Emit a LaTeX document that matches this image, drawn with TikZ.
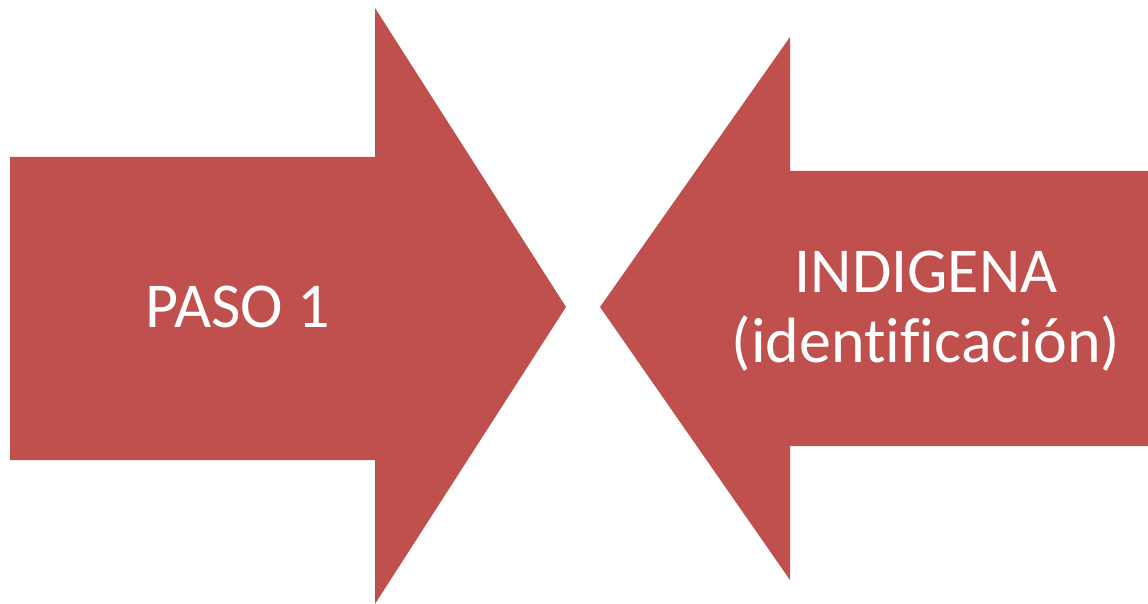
\documentclass[tikz,border=0pt]{standalone}
\usepackage{fontspec}
\setmainfont{Carlito}[Ligatures=NoCommon]
\definecolor{arrowred}{HTML}{C0504D}
\tikzset{
  bigarrow/.style={fill=arrowred, draw=none},
  arrowtext/.style={text=white, font=\fontsize{64}{70}\selectfont, align=center, inner sep=0pt}
}
\begin{document}
\begin{tikzpicture}[x=1pt,y=-1pt]
\useasboundingbox (0,0) rectangle (1148,604);
\fill[white] (0,0) rectangle (1148,604);
\path[bigarrow] (10,157) -- (375,157) -- (375,8) -- (566,307) -- (375,604) -- (375,460) -- (10,460) -- cycle;
\path[bigarrow] (1148,171) -- (790,171) -- (790,37) -- (600,307) -- (790,580) -- (790,446) -- (1148,446) -- cycle;
\node[arrowtext] (paso) at (238,307) {PASO 1};
\node[arrowtext] (indigena) at (926,311) {INDIGENA\\(identificación)};
\end{tikzpicture}
\end{document}
